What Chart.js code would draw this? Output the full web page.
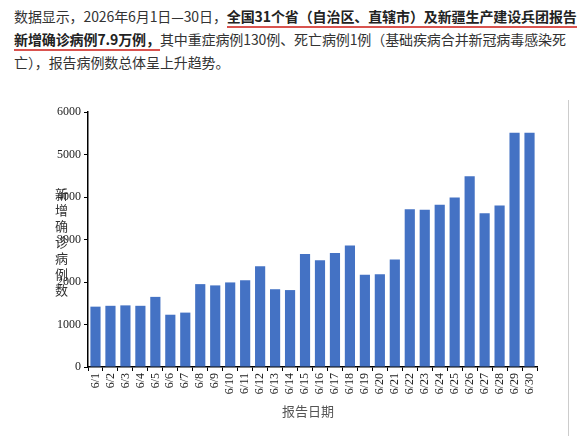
<!DOCTYPE html>
<html><head><meta charset="utf-8">
<script src="https://cdn.jsdelivr.net/npm/chart.js@4"></script>
<style>
body{margin:0;width:583px;height:436px;background:#fff;position:relative;overflow:hidden;font-family:"Noto Sans CJK SC";}
#txt{position:absolute;left:14px;top:5px;width:566px;font-size:14px;line-height:23px;color:#333;letter-spacing:-0.1px;}
#txt b{font-weight:bold;color:#222;border-bottom:2px solid #d9534f;}
#wrap{position:absolute;left:0;top:100px;width:583px;height:336px;}
#yt{position:absolute;left:55px;top:186px;width:16px;font-size:13px;line-height:16px;color:#333;font-family:"Noto Sans CJK SC";}
#xt{position:absolute;left:282px;top:401px;font-size:13px;color:#555;}
#rl{position:absolute;left:568px;top:100px;width:1px;height:336px;background:#ccc;}
</style></head><body>
<div id="txt">数据显示，2026年6月1日—30日，<b>全国31个省（自治区、直辖市）及新疆生产建设兵团报告新增确诊病例7.9万例，</b>其中重症病例130例、死亡病例1例（基础疾病合并新冠病毒感染死亡），报告病例数总体呈上升趋势。</div>
<div id="wrap"><canvas id="c" width="583" height="336"></canvas></div>
<div id="yt">新增确诊病例数</div>
<div id="xt">报告日期</div>
<div id="rl"></div>
<script>
const labels=["6/1","6/2","6/3","6/4","6/5","6/6","6/7","6/8","6/9","6/10","6/11","6/12","6/13","6/14","6/15","6/16","6/17","6/18","6/19","6/20","6/21","6/22","6/23","6/24","6/25","6/26","6/27","6/28","6/29","6/30"];
const cases=[1420,1440,1450,1440,1650,1230,1280,1950,1920,1990,2040,2370,1830,1810,2660,2510,2680,2860,2170,2180,2530,3710,3700,3820,3990,4490,3620,3800,5510,5510];
const yTicks=[0,1000,2000,3000,4000,5000,6000];
new Chart(document.getElementById('c'),{type:'bar',
data:{labels:labels,datasets:[{data:cases,backgroundColor:'#4472C4',barPercentage:0.68,categoryPercentage:1}]},
options:{responsive:false,animation:false,devicePixelRatio:1,
layout:{padding:{left:50,right:46,top:12,bottom:0}},
plugins:{legend:{display:false},tooltip:{enabled:false}},
scales:{
x:{offset:true,grid:{display:true,drawOnChartArea:false,offset:true,tickLength:4,color:'#000'},border:{color:'#000',width:1.5},
 ticks:{autoSkip:false,minRotation:90,maxRotation:90,color:'#222',font:{family:'Liberation Serif',size:12},padding:2},
 afterFit:s=>{s.height=69;}},
y:{min:0,max:6000,afterBuildTicks:s=>{s.ticks=yTicks.map(v=>({value:v}));},
 grid:{display:true,drawOnChartArea:false,tickLength:4,color:'#000'},border:{color:'#000',width:1.5},
 ticks:{color:'#222',font:{family:'Liberation Serif',size:12},padding:3,callback:v=>String(v)},
 afterFit:s=>{s.width=38;}}
}}});
</script></body></html>
